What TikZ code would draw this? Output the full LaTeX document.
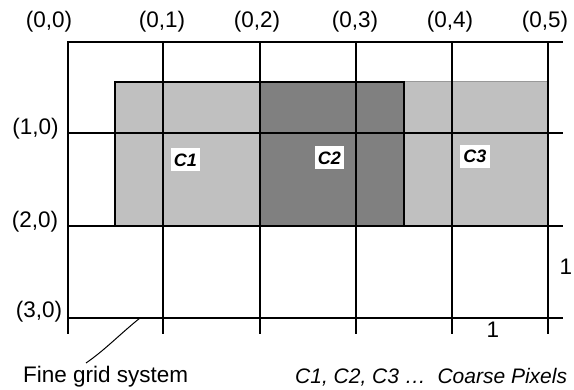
\documentclass[tikz,border=0pt]{standalone}
\usepackage{fontspec}
\setmainfont{Liberation Sans}
\definecolor{lightg}{HTML}{C0C0C0}
\definecolor{darkg}{HTML}{808080}
\begin{document}
\begin{tikzpicture}[x=1pt,y=-1pt,
  font=\fontsize{22.5}{26}\selectfont,
  gridline/.style={line width=1.6pt, black},
  boxline/.style={line width=1.4pt, black},
  lbl/.style={inner sep=0pt},
  cbox/.style={fill=white, font=\fontsize{18}{20}\selectfont\bfseries\itshape,
    inner xsep=3pt, inner ysep=5pt, text height=13pt, text depth=0pt}]
\useasboundingbox (0,0) rectangle (574,390);
% coarse pixels
\fill[lightg] (115,82) rectangle (260,226);
\fill[darkg] (260,82) rectangle (404,226);
\fill[lightg] (404,82) rectangle (548,226);
\draw[line width=1pt, gray!80] (404,82) -- (548,82);
\draw[boxline] (115,226) -- (115,82) -- (404,82) -- (404,226);
% fine grid
\foreach \x in {68,163,260,356,452,548} \draw[gridline] (\x,42) -- (\x,334);
\foreach \y in {42,133,226,318} \draw[gridline] (67,\y) -- (563,\y);
% coarse labels
\node[cbox] (c1) at (185.5,160) {C1};
\node[cbox] (c2) at (329.5,158) {C2};
\node[cbox] (c3) at (475,156.5) {C3};
% axis labels
\node[lbl] (t0) at (49,22) {(0,0)};
\node[lbl] (t1) at (162,22) {(0,1)};
\node[lbl] (t2) at (257,22) {(0,2)};
\node[lbl] (t3) at (355,22) {(0,3)};
\node[lbl] (t4) at (450,22) {(0,4)};
\node[lbl] (t5) at (545,22) {(0,5)};
\node[lbl] (l1) at (35.5,129) {(1,0)};
\node[lbl] (l2) at (35,222) {(2,0)};
\node[lbl] (l3) at (39,312) {(3,0)};
\node[lbl] (one1) at (566,267) {1};
\node[lbl] (one2) at (493,330) {1};
% bottom texts
\node[lbl, anchor=west] (fine) at (23,377) {Fine grid system};
\node[lbl, anchor=west, font=\fontsize{21}{24}\selectfont\itshape] (coarse) at (295,377) {C1, C2, C3 \dots\ \ Coarse Pixels};
\coordinate (la) at (86,363);
\coordinate (lb) at (140,318);
\draw[line width=1pt] (la) .. controls (105,350) and (120,334) .. (lb);
\end{tikzpicture}
\end{document}
